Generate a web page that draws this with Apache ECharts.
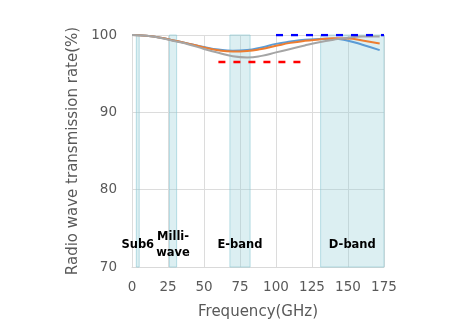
<!DOCTYPE html>
<html><head><meta charset="utf-8">
<script src="https://cdn.jsdelivr.net/npm/echarts@6/dist/echarts.min.js"></script>
<style>html,body{margin:0;padding:0;background:#fff}#c{width:456px;height:331px}</style>
</head><body><div id="c"></div>
<script>
const freq = [0, 10, 20, 30, 40, 50, 60, 70, 80, 90, 100, 110, 120, 130, 140, 150, 160, 172];
const blueVals = [100, 99.9, 99.65, 99.25, 98.85, 98.45, 98.12, 97.96, 98.05, 98.4, 98.85, 99.15, 99.38, 99.48, 99.52, 99.25, 98.75, 98.05];
const orangeVals = [100, 99.9, 99.65, 99.25, 98.85, 98.4, 98.02, 97.86, 97.93, 98.2, 98.6, 98.98, 99.25, 99.42, 99.57, 99.55, 99.3, 98.9];
const grayVals = [100, 99.9, 99.62, 99.2, 98.75, 98.2, 97.7, 97.25, 97.1, 97.3, 97.75, 98.2, 98.65, 99.05, 99.38, 99.65, 99.8, 99.82];
const redLineX = [60, 120];
const redLineY = 96.5;
const blueLineX = [100, 175];
const blueLineY = 100;
const bands = [
  {name: 'Sub6', from: 3, to: 5},
  {name: 'Milli-\nwave', from: 26, to: 31},
  {name: 'E-band', from: 68, to: 82},
  {name: 'D-band', from: 131, to: 175}
];
const xTicks = {min: 0, max: 175, interval: 25};
const yTicks = {min: 70, max: 100, interval: 10};

const pairs = (xs, ys) => xs.map((x, i) => [x, ys[i]]);
const FONT = 'DejaVu Sans';
const chart = echarts.init(document.getElementById('c'), null, {renderer: 'canvas'});
chart.setOption({
  animation: false,
  grid: {left: 132, right: 72, top: 35, bottom: 64},
  xAxis: {
    type: 'value', min: xTicks.min, max: xTicks.max, interval: xTicks.interval,
    name: 'Frequency(GHz)', nameLocation: 'middle', nameGap: 38,
    nameTextStyle: {fontFamily: FONT, fontSize: 15, color: '#595959'},
    axisLine: {show: true, lineStyle: {color: '#d9d9d9', width: 1}},
    axisTick: {show: false},
    axisLabel: {fontFamily: FONT, fontSize: 13.5, color: '#595959', margin: 13},
    splitLine: {show: true, lineStyle: {color: '#dcdcdc', width: 1}}
  },
  yAxis: {
    type: 'value', min: yTicks.min, max: yTicks.max, interval: yTicks.interval,
    name: 'Radio wave transmission rate(%)', nameLocation: 'middle', nameGap: 43,
    nameTextStyle: {fontFamily: FONT, fontSize: 15, color: '#595959'},
    axisLine: {show: false},
    axisTick: {show: false},
    axisLabel: {fontFamily: FONT, fontSize: 13.5, color: '#595959', margin: 15},
    splitLine: {show: true, lineStyle: {color: '#dcdcdc', width: 1}}
  },
  series: [
    {
      type: 'line', data: [], silent: true,
      markArea: {
        silent: true,
        itemStyle: {color: 'rgba(150,205,215,0.33)', borderColor: 'rgba(140,200,212,0.6)', borderWidth: 1},
        label: {
          show: true, position: ['50%', '90.5%'], align: 'center', verticalAlign: 'middle',
          fontFamily: FONT, fontWeight: 'bold', fontSize: 11.5, color: '#000', lineHeight: 16
        },
        data: bands.map(b => [
          {name: b.name, xAxis: b.from, yAxis: yTicks.min},
          {xAxis: b.to, yAxis: yTicks.max}
        ])
      }
    },
    {type: 'line', data: pairs(freq, blueVals), smooth: true, symbol: 'none',
     lineStyle: {color: '#5b9bd5', width: 2}, itemStyle: {color: '#5b9bd5'}},
    {type: 'line', data: pairs(freq, orangeVals), smooth: true, symbol: 'none',
     lineStyle: {color: '#ed7d31', width: 2}, itemStyle: {color: '#ed7d31'}},
    {type: 'line', data: pairs(freq, grayVals), smooth: true, symbol: 'none',
     lineStyle: {color: '#a5a5a5', width: 2}, itemStyle: {color: '#a5a5a5'}},
    {type: 'line', data: redLineX.map(x => [x, redLineY]), symbol: 'none',
     lineStyle: {color: '#ff0000', width: 2.5, type: [7, 8]}},
    {type: 'line', data: blueLineX.map(x => [x, blueLineY]), symbol: 'none',
     lineStyle: {color: '#0000ff', width: 2.5, type: [7, 8]}}
  ]
});
</script></body></html>
